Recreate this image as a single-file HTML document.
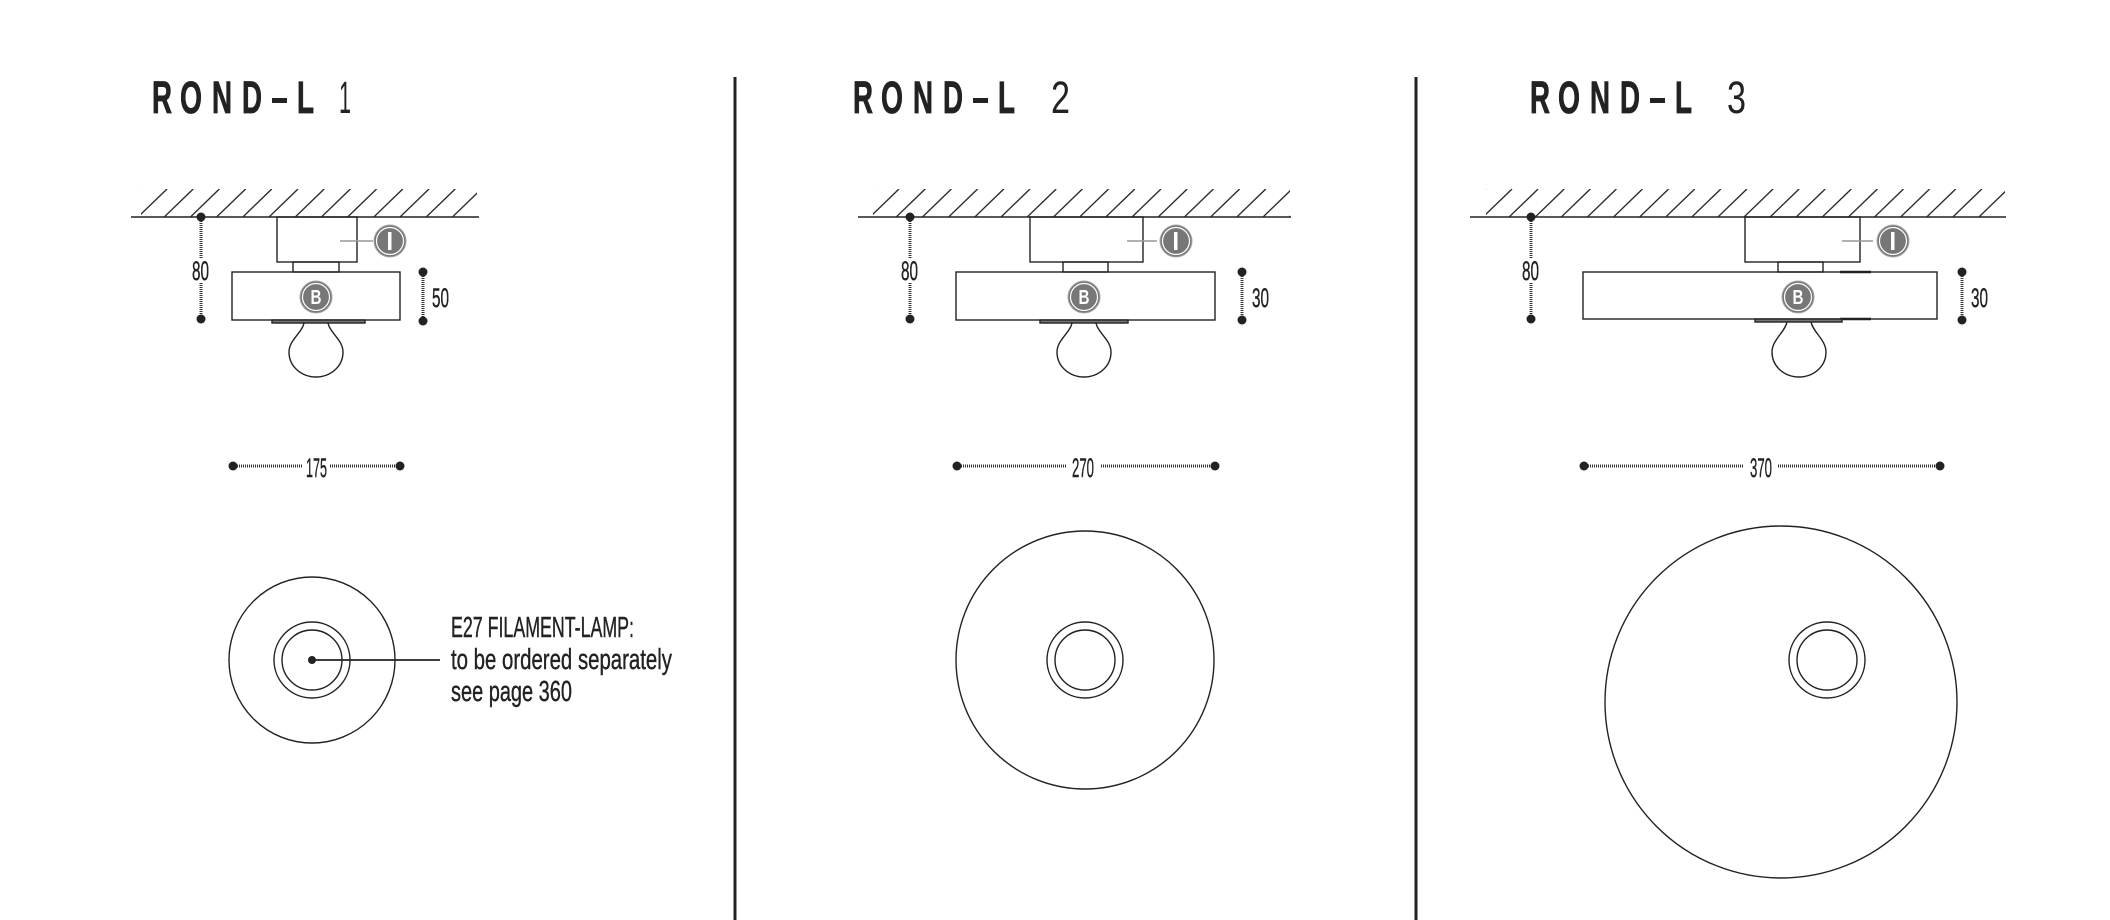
<!DOCTYPE html>
<html><head><meta charset="utf-8"><style>html,body{margin:0;padding:0;background:#fff}svg{display:block}</style></head>
<body>
<svg width="2110" height="920" viewBox="0 0 2110 920" xmlns="http://www.w3.org/2000/svg" font-family="'Liberation Sans Narrow','Liberation Sans',sans-serif">
<defs>
<pattern id="h1" patternUnits="userSpaceOnUse" x="138" y="189" width="26.2" height="28"><line x1="0" y1="28" x2="29" y2="0" stroke="#222" stroke-width="1.3"/><line x1="-26.2" y1="28" x2="2.8" y2="0" stroke="#222" stroke-width="1.3"/></pattern>
<pattern id="h2" patternUnits="userSpaceOnUse" x="870" y="189" width="26.2" height="28"><line x1="0" y1="28" x2="29" y2="0" stroke="#222" stroke-width="1.3"/><line x1="-26.2" y1="28" x2="2.8" y2="0" stroke="#222" stroke-width="1.3"/></pattern>
<pattern id="h3" patternUnits="userSpaceOnUse" x="1483" y="189" width="26.1" height="28"><line x1="0" y1="28" x2="29" y2="0" stroke="#222" stroke-width="1.3"/><line x1="-26.1" y1="28" x2="2.9" y2="0" stroke="#222" stroke-width="1.3"/></pattern>
<g id="title" font-family="'Liberation Sans',sans-serif" font-size="45" font-weight="bold" fill="#222" stroke="#222" stroke-width="0.8">
<text x="152" y="113" textLength="20" lengthAdjust="spacingAndGlyphs">R</text>
<text x="180" y="113" textLength="22" lengthAdjust="spacingAndGlyphs">O</text>
<text x="212" y="113" textLength="20" lengthAdjust="spacingAndGlyphs">N</text>
<text x="242" y="113" textLength="20" lengthAdjust="spacingAndGlyphs">D</text>
<rect x="272" y="98" width="15" height="5" stroke="none"/>
<text x="297" y="113" textLength="17" lengthAdjust="spacingAndGlyphs">L</text>
</g>
</defs>

<line x1="735" y1="77" x2="735" y2="920" stroke="#222" stroke-width="3"/>
<line x1="1416" y1="77" x2="1416" y2="920" stroke="#222" stroke-width="3"/>

<use href="#title"/>
<use href="#title" x="701"/>
<use href="#title" x="1378"/>
<g fill="#222" font-family="'Liberation Sans',sans-serif" font-size="45">
<text x="339" y="113" textLength="12" lengthAdjust="spacingAndGlyphs">1</text>
<text x="1051" y="113" textLength="19" lengthAdjust="spacingAndGlyphs">2</text>
<text x="1727" y="113" textLength="19" lengthAdjust="spacingAndGlyphs">3</text>
</g>

<g stroke="#222" fill="none" stroke-width="1.4">
<rect x="141" y="189" width="336" height="28" fill="url(#h1)" stroke="none"/>
<line x1="131" y1="217" x2="479" y2="217"/>
<rect x="873" y="189" width="417" height="28" fill="url(#h2)" stroke="none"/>
<line x1="858" y1="217" x2="1291" y2="217"/>
<rect x="1486" y="189" width="519" height="28" fill="url(#h3)" stroke="none"/>
<line x1="1470" y1="217" x2="2006" y2="217"/>

<rect x="277" y="217" width="80" height="45"/>
<rect x="293" y="262" width="46" height="10"/>
<rect x="232" y="272" width="168" height="48"/>
<rect x="272" y="320" width="93" height="3" fill="#777"/>
<path d="M304,323 C302,333 289,340 289,352 C289,367 302,377 316,377 C330,377 343,367 343,352 C343,340 330,333 328,323"/>
<line x1="340" y1="241" x2="373" y2="241" stroke="#999"/>

<rect x="1030" y="217" width="113" height="45"/>
<rect x="1063" y="262" width="45" height="10"/>
<rect x="956" y="272" width="259" height="48"/>
<rect x="1040" y="320" width="88" height="3" fill="#777"/>
<path d="M1072,323 C1070,333 1057,340 1057,352 C1057,367 1070,377 1084,377 C1098,377 1111,367 1111,352 C1111,340 1098,333 1096,323"/>
<line x1="1127" y1="241" x2="1157" y2="241" stroke="#999"/>

<rect x="1745" y="217" width="115" height="45"/>
<rect x="1778" y="262" width="45" height="10"/>
<rect x="1583" y="272" width="354" height="47"/>
<line x1="1840" y1="272" x2="1871" y2="272" stroke-width="2.5"/>
<line x1="1840" y1="319" x2="1871" y2="319" stroke-width="2.5"/>
<rect x="1755" y="319" width="87" height="3" fill="#777"/>
<path d="M1787,322 C1785,332 1772,340 1772,352 C1772,367 1785,377 1799,377 C1813,377 1826,367 1826,352 C1826,340 1813,332 1811,322"/>
<line x1="1842" y1="241" x2="1873" y2="241" stroke="#999"/>

<circle cx="312" cy="660" r="83"/>
<circle cx="312" cy="660" r="38"/>
<circle cx="312" cy="660" r="30"/>
<line x1="312" y1="660" x2="440" y2="660" stroke-width="1.8"/>
<circle cx="1085" cy="660" r="129"/>
<circle cx="1085" cy="660" r="38"/>
<circle cx="1085" cy="660" r="30"/>
<circle cx="1781" cy="702" r="176"/>
<circle cx="1827" cy="660" r="38"/>
<circle cx="1827" cy="660" r="30"/>
</g>
<circle cx="312" cy="660" r="4" fill="#222"/>

<g font-family="'Liberation Sans',sans-serif" font-weight="bold" font-size="20" fill="#fff" text-anchor="middle">
<g><circle cx="390" cy="241" r="16" fill="#777" stroke="#aaa" stroke-width="1"/><circle cx="390" cy="241" r="13.5" fill="none" stroke="#fff" stroke-width="1.2"/><rect x="388" y="232" width="3.5" height="18" fill="#fff"/></g>
<g><circle cx="1176" cy="241" r="16" fill="#777" stroke="#aaa" stroke-width="1"/><circle cx="1176" cy="241" r="13.5" fill="none" stroke="#fff" stroke-width="1.2"/><rect x="1174" y="232" width="3.5" height="18" fill="#fff"/></g>
<g><circle cx="1893" cy="241" r="16" fill="#777" stroke="#aaa" stroke-width="1"/><circle cx="1893" cy="241" r="13.5" fill="none" stroke="#fff" stroke-width="1.2"/><rect x="1891" y="232" width="3.5" height="18" fill="#fff"/></g>
<g><circle cx="316" cy="297" r="16" fill="#777" stroke="#aaa" stroke-width="1"/><circle cx="316" cy="297" r="13.5" fill="none" stroke="#fff" stroke-width="1.2"/><text x="316" y="304" textLength="11" lengthAdjust="spacingAndGlyphs">B</text></g>
<g><circle cx="1084" cy="297" r="16" fill="#777" stroke="#aaa" stroke-width="1"/><circle cx="1084" cy="297" r="13.5" fill="none" stroke="#fff" stroke-width="1.2"/><text x="1084" y="304" textLength="11" lengthAdjust="spacingAndGlyphs">B</text></g>
<g><circle cx="1798" cy="297" r="16" fill="#777" stroke="#aaa" stroke-width="1"/><circle cx="1798" cy="297" r="13.5" fill="none" stroke="#fff" stroke-width="1.2"/><text x="1798" y="304" textLength="11" lengthAdjust="spacingAndGlyphs">B</text></g>
</g>

<g stroke="#333" stroke-width="3" stroke-dasharray="1 1" fill="none">
<line x1="201" y1="217" x2="201" y2="258"/><line x1="201" y1="283" x2="201" y2="319"/>
<line x1="910" y1="217" x2="910" y2="258"/><line x1="910" y1="283" x2="910" y2="319"/>
<line x1="1531" y1="217" x2="1531" y2="258"/><line x1="1531" y1="283" x2="1531" y2="319"/>
<line x1="423" y1="272" x2="423" y2="321"/>
<line x1="1242" y1="272" x2="1242" y2="320"/>
<line x1="1962" y1="272" x2="1962" y2="320"/>
<line x1="233" y1="466" x2="302" y2="466"/><line x1="330" y1="466" x2="400" y2="466"/>
<line x1="957" y1="466" x2="1067" y2="466"/><line x1="1101" y1="466" x2="1215" y2="466"/>
<line x1="1584" y1="466" x2="1744" y2="466"/><line x1="1778" y1="466" x2="1940" y2="466"/>
</g>
<g fill="#222">
<circle cx="201" cy="217" r="4.5"/><circle cx="201" cy="319" r="4.5"/>
<circle cx="910" cy="217" r="4.5"/><circle cx="910" cy="319" r="4.5"/>
<circle cx="1531" cy="217" r="4.5"/><circle cx="1531" cy="319" r="4.5"/>
<circle cx="423" cy="272" r="4.5"/><circle cx="423" cy="321" r="4.5"/>
<circle cx="1242" cy="272" r="4.5"/><circle cx="1242" cy="320" r="4.5"/>
<circle cx="1962" cy="272" r="4.5"/><circle cx="1962" cy="320" r="4.5"/>
<circle cx="233" cy="466" r="4.5"/><circle cx="400" cy="466" r="4.5"/>
<circle cx="957" cy="466" r="4.5"/><circle cx="1215" cy="466" r="4.5"/>
<circle cx="1584" cy="466" r="4.5"/><circle cx="1940" cy="466" r="4.5"/>
</g>

<g fill="#222" font-size="27" stroke="#222" stroke-width="0.4">
<text x="192" y="280" textLength="17" lengthAdjust="spacingAndGlyphs">80</text>
<text x="901" y="280" textLength="17" lengthAdjust="spacingAndGlyphs">80</text>
<text x="1522" y="280" textLength="17" lengthAdjust="spacingAndGlyphs">80</text>
<text x="432" y="307" textLength="17" lengthAdjust="spacingAndGlyphs">50</text>
<text x="1252" y="307" textLength="17" lengthAdjust="spacingAndGlyphs">30</text>
<text x="1971" y="307" textLength="17" lengthAdjust="spacingAndGlyphs">30</text>
<text x="306" y="477" textLength="21" lengthAdjust="spacingAndGlyphs">175</text>
<text x="1072" y="477" textLength="22" lengthAdjust="spacingAndGlyphs">270</text>
<text x="1750" y="477" textLength="22" lengthAdjust="spacingAndGlyphs">370</text>
</g>

<g fill="#222" font-size="29" stroke="#222" stroke-width="0.4">
<text x="451" y="637" textLength="183" lengthAdjust="spacingAndGlyphs">E27 FILAMENT-LAMP:</text>
<text x="451" y="669" textLength="221" lengthAdjust="spacingAndGlyphs">to be ordered separately</text>
<text x="451" y="701" textLength="121" lengthAdjust="spacingAndGlyphs">see page 360</text>
</g>
</svg>
</body></html>
